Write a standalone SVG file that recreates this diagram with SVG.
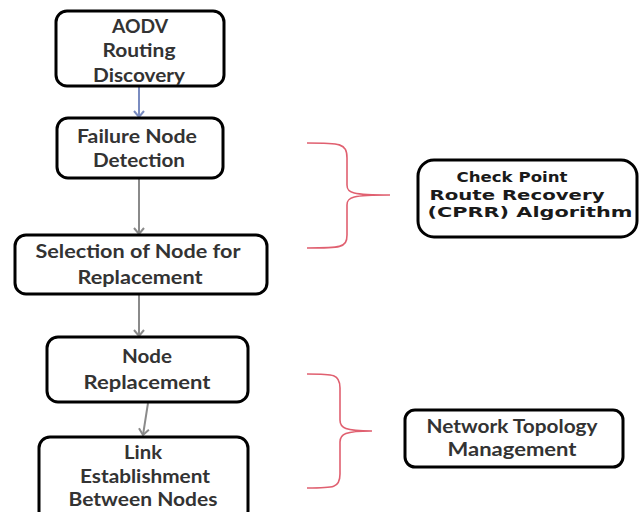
<svg xmlns="http://www.w3.org/2000/svg" width="639" height="512" viewBox="0 0 639 512">
<defs>
<style>
.box{fill:#fff;stroke:#000;stroke-width:3}
.t{font-family:Lato,"Liberation Sans",sans-serif;font-weight:bold;font-size:18px;fill:#333;text-anchor:middle}
.v{font-family:"DejaVu Sans",Verdana,sans-serif;font-weight:bold;font-size:14px;fill:#1a1a1a;text-anchor:middle}
.c{fill:none;stroke:#8a8a8a;stroke-width:2}
.brace{fill:none;stroke:#e06070;stroke-width:1.6}
</style>
<marker id="ahd" viewBox="0 0 12 12" refX="11" refY="6" markerWidth="12" markerHeight="12" markerUnits="userSpaceOnUse" orient="auto">
<polyline points="5,1 11,6 5,11" fill="none" stroke="#8a8a8a" stroke-width="2"/>
</marker>
<marker id="ahb" viewBox="0 0 12 12" refX="11" refY="6" markerWidth="12" markerHeight="12" markerUnits="userSpaceOnUse" orient="auto">
<polyline points="5,1 11,6 5,11" fill="none" stroke="#7a8cc0" stroke-width="2"/>
</marker>
</defs>
<rect width="639" height="512" fill="#fff"/>
<g id="connectors">
<line x1="139" y1="87" x2="139" y2="117" stroke="#7a8cc0" stroke-width="2" marker-end="url(#ahb)"/>
<line class="c" x1="139" y1="179" x2="139" y2="234" marker-end="url(#ahd)"/>
<line class="c" x1="139" y1="295" x2="139" y2="336" marker-end="url(#ahd)"/>
<line class="c" x1="148" y1="403" x2="143" y2="435" marker-end="url(#ahd)"/>
</g>
<g id="n1">
<rect class="box" x="56" y="11" width="168" height="75" rx="11"/>
<text class="t" x="140" y="33" font-size="19" textLength="56" lengthAdjust="spacingAndGlyphs">AODV</text>
<text class="t" x="139" y="57" font-size="19" textLength="73" lengthAdjust="spacingAndGlyphs">Routing</text>
<text class="t" x="139" y="82" font-size="19" textLength="92" lengthAdjust="spacingAndGlyphs">Discovery</text>
</g>
<g id="n2">
<rect class="box" x="57" y="118" width="166" height="60" rx="11"/>
<text class="t" x="137" y="143" textLength="120" lengthAdjust="spacingAndGlyphs">Failure Node</text>
<text class="t" x="139" y="167" textLength="92" lengthAdjust="spacingAndGlyphs">Detection</text>
</g>
<g id="n3">
<rect class="box" x="15" y="235" width="252" height="59" rx="11"/>
<text class="t" x="138" y="258" textLength="205" lengthAdjust="spacingAndGlyphs">Selection of Node for</text>
<text class="t" x="140" y="284" textLength="125" lengthAdjust="spacingAndGlyphs">Replacement</text>
</g>
<g id="n4">
<rect class="box" x="47" y="337" width="201" height="65" rx="11"/>
<text class="t" x="147" y="363" textLength="50" lengthAdjust="spacingAndGlyphs">Node</text>
<text class="t" x="147" y="389" textLength="127" lengthAdjust="spacingAndGlyphs">Replacement</text>
</g>
<g id="n5">
<rect class="box" x="39" y="437" width="209" height="85" rx="11"/>
<text class="t" x="143" y="459" textLength="38" lengthAdjust="spacingAndGlyphs">Link</text>
<text class="t" x="145" y="483" textLength="130" lengthAdjust="spacingAndGlyphs">Establishment</text>
<text class="t" x="143" y="506" textLength="149" lengthAdjust="spacingAndGlyphs">Between Nodes</text>
</g>
<g id="brace1">
<path class="brace" d="M307,143 C340,143 347,143 347,158 L347,185 C347,193 352,195 390,195 C352,195 347,197 347,205 L347,235 C347,248 340,248 307,248"/>
</g>
<g id="n6">
<rect class="box" x="418" y="160" width="219" height="77" rx="16"/>
<text class="v" x="512" y="182" textLength="111" lengthAdjust="spacingAndGlyphs">Check Point</text>
<text class="v" x="517" y="200" textLength="175" lengthAdjust="spacingAndGlyphs">Route Recovery</text>
<text class="v" x="530" y="217" textLength="205" lengthAdjust="spacingAndGlyphs">(CPRR) Algorithm</text>
</g>
<g id="brace2">
<path class="brace" d="M307,374 C334,374 340,374 340,388 L340,420 C340,428 345,431 372,431 C345,431 340,434 340,442 L340,474 C340,488 334,488 307,488"/>
</g>
<g id="n7">
<rect class="box" x="405" y="410" width="218" height="57" rx="10"/>
<text class="t" x="512" y="433" textLength="171" lengthAdjust="spacingAndGlyphs">Network Topology</text>
<text class="t" x="512" y="456" textLength="129" lengthAdjust="spacingAndGlyphs">Management</text>
</g>
</svg>
